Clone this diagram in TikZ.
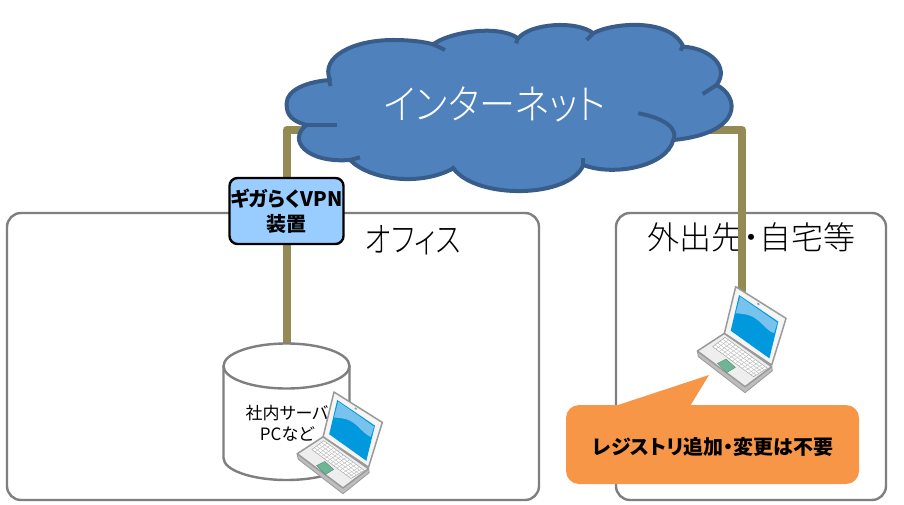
\documentclass[tikz,border=0pt]{standalone}
\usepackage{fontspec}
\usepackage{graphicx}
\usetikzlibrary{calc}
\newfontfamily\jp[RawFeature=+palt]{Noto Sans CJK JP}
\newfontfamily\jplight[RawFeature=+palt]{Noto Sans CJK JP Light}
\definecolor{wirecol}{HTML}{948A54}
\definecolor{cloudfill}{HTML}{4F81BD}
\definecolor{cloudline}{HTML}{385D8A}
\definecolor{vpnfill}{HTML}{99CCFF}
\definecolor{boxline}{HTML}{7F7F7F}
\definecolor{calloutfill}{HTML}{F79646}
\definecolor{lapline}{HTML}{9A9A9A}
\definecolor{lapbody}{HTML}{EEEEEE}
\definecolor{lapedge}{HTML}{BDBDBD}
\definecolor{screendark}{HTML}{0099DD}
\definecolor{screenlight}{HTML}{78C3EE}
\definecolor{padcol}{HTML}{6DB595}
\tikzset{
  wire/.style={draw=wirecol,line width=8pt,line join=round},
  areabox/.style={draw=boxline,line width=2.4pt,rounded corners=14pt,fill=white},
  cloudstroke/.style={draw=cloudline,line width=4pt,line cap=butt},
  vpnbox/.style={draw=black,line width=2.4pt,fill=vpnfill,rounded corners=8pt,minimum width=114pt,minimum height=66pt,inner sep=0pt,align=center,font=\jp\bfseries\fontsize{20}{25}\selectfont},
  arealabel/.style={inner sep=0pt,font=\jplight\fontsize{32}{36}\selectfont},
  cyl/.style={draw=boxline,line width=2.4pt,fill=white},
  lapout/.style={draw=lapline,line width=1.5pt,line join=round}
}
\newcommand{\laptopat}[4]{%
\begin{scope}[shift={(#1,#2)},x=#3pt,y=-#4pt]
  \fill[lapedge,draw=lapline,line width=.8pt,line join=round] (-115,193)--(-112,210)--(28,318)--(110,252)--(108,240)--cycle;
  \filldraw[lapout,fill=lapbody] (-115,193)--(-34,140)--(108,240)--(28,300)--cycle;
  \filldraw[lapout,fill=white!96!black] (0,0)--(151,95)--(108,235)--(-34,140)--cycle;
  \fill[screendark] (10,25)--(128,105)--(101,215)--(-15,132)--cycle;
  \fill[screenlight] (13,30)--(125,108)--(115,140) .. controls (88,130) and (73,95) .. (38,85) .. controls (25,82) and (12,80) .. (0,80)--cycle;
  \fill[lapline] (66,48)--(72,52)--(70,56)--(64,52)--cycle;
  \coordinate (ka) at (-69,180); \coordinate (kb) at (-32,152);
  \coordinate (kc) at (95,245); \coordinate (kd) at (53,270);
  \fill[white,draw=lapline,line width=.4pt] (ka)--(kb)--(kc)--(kd)--cycle;
  \foreach \t in {.2,.4,.6,.8}
    \draw[lapline!70,line width=.4pt] ($(ka)!\t!(kb)$)--($(kd)!\t!(kc)$);
  \foreach \t in {.08,.16,.24,.32,.40,.48,.56,.64,.72,.80,.88,.94}
    \draw[lapline!70,line width=.4pt] ($(ka)!\t!(kd)$)--($(kb)!\t!(kc)$);
  \fill[padcol,draw=padcol!70!black,line width=.3pt] (-55,230)--(-29,217)--(-1,242)--(-27,258)--cycle;
\end{scope}}
\begin{document}
\begin{tikzpicture}[x=1pt,y=-1pt]
\useasboundingbox (0,0) rectangle (904,505);
\fill[white] (0,0) rectangle (904,505);
\draw[areabox] (7,213) rectangle (539,500);
\draw[areabox] (616,213) rectangle (886,500);
\node[inner sep=0pt,font=\jplight\fontsize{35}{38}\selectfont] (office) at (413,240) {\scalebox{.8}[1]{オフィス}};
\node[arealabel] (away) at (751,237) {外出先・自宅等};
\coordinate (cloudL) at (305,130);
\coordinate (cloudR) at (700,130);
\coordinate (srvtop) at (286.5,350);
\coordinate (laptop) at (742,292);
\coordinate (vpnpos) at (286.5,211);
\draw[wire] (cloudL) -| (vpnpos);
\draw[wire] (vpnpos) -- (srvtop);
\draw[wire] (cloudR) -| (laptop);
\node[vpnbox] (vpn) at (vpnpos) {ギガらくVPN\\装置};
\draw[cyl] (223.5,366) -- (223.5,458) arc[start angle=180,end angle=0,x radius=63,y radius=22] -- (349.5,366);
\draw[cyl] (286.5,366) ellipse[x radius=63,y radius=22.5];
\node[inner sep=0pt,align=center,font=\jp\fontsize{17}{21}\selectfont] (srv) at (287,423) {社内サーバ\\PCなど};
\begin{scope}[shift={(270,10)},x=.3333pt,y=-.3333pt]
\filldraw[cloudstroke,fill=cloudfill,line join=round]
 (50,280) .. controls (50,240) and (110,215) .. (180,210)
 .. controls (150,140) and (250,90) .. (370,90)
 .. controls (420,90) and (460,95) .. (490,103)
 .. controls (530,70) and (680,40) .. (745,85)
 .. controls (780,40) and (920,30) .. (970,70)
 .. controls (1020,40) and (1200,20) .. (1240,110)
 .. controls (1320,115) and (1380,170) .. (1340,225)
 .. controls (1410,260) and (1420,370) .. (1210,390)
 .. controls (1190,470) and (1030,500) .. (940,465)
 .. controls (900,565) and (620,570) .. (550,475)
 .. controls (450,530) and (300,510) .. (240,450)
 .. controls (110,460) and (50,390) .. (110,345)
 .. controls (50,330) and (50,300) .. (50,280) -- cycle;
\draw[cloudstroke] (182,228)--(175,205);
\draw[cloudstroke] (490,103)--(525,120);
\draw[cloudstroke] (738,100)--(745,82);
\draw[cloudstroke] (950,90)--(970,70);
\draw[cloudstroke] (1232,122)--(1240,105);
\draw[cloudstroke] (1298,252)--(1340,225);
\draw[cloudstroke] (1105,310) .. controls (1190,325) and (1225,360) .. (1210,390);
\draw[cloudstroke] (110,345) .. controls (140,345) and (170,345) .. (200,345);
\draw[cloudstroke] (240,450)--(270,442);
\draw[cloudstroke] (940,443)--(940,465);
\draw[cloudstroke] (545,470)--(555,480);
\end{scope}
\node[inner sep=0pt,text=white,font=\jplight\fontsize{41}{44}\selectfont] (inet) at (495,104) {\scalebox{.88}[1]{インターネット}};
\laptopat{735.7}{286.7}{.3333}{.3333}
\laptopat{334}{392}{.32}{.32}
\fill[calloutfill] (618,405) -- (709,375) -- (690.7,405) -- (846,405) arc[start angle=-90,end angle=0,radius=13] -- (859,471) arc[start angle=0,end angle=90,radius=13] -- (579,484) arc[start angle=90,end angle=180,radius=13] -- (566,418) arc[start angle=180,end angle=270,radius=13] -- cycle;
\node[inner sep=0pt,font=\jp\bfseries\fontsize{20}{22}\selectfont] (note) at (713,447) {レジストリ追加・変更は不要};
\end{tikzpicture}
\end{document}
